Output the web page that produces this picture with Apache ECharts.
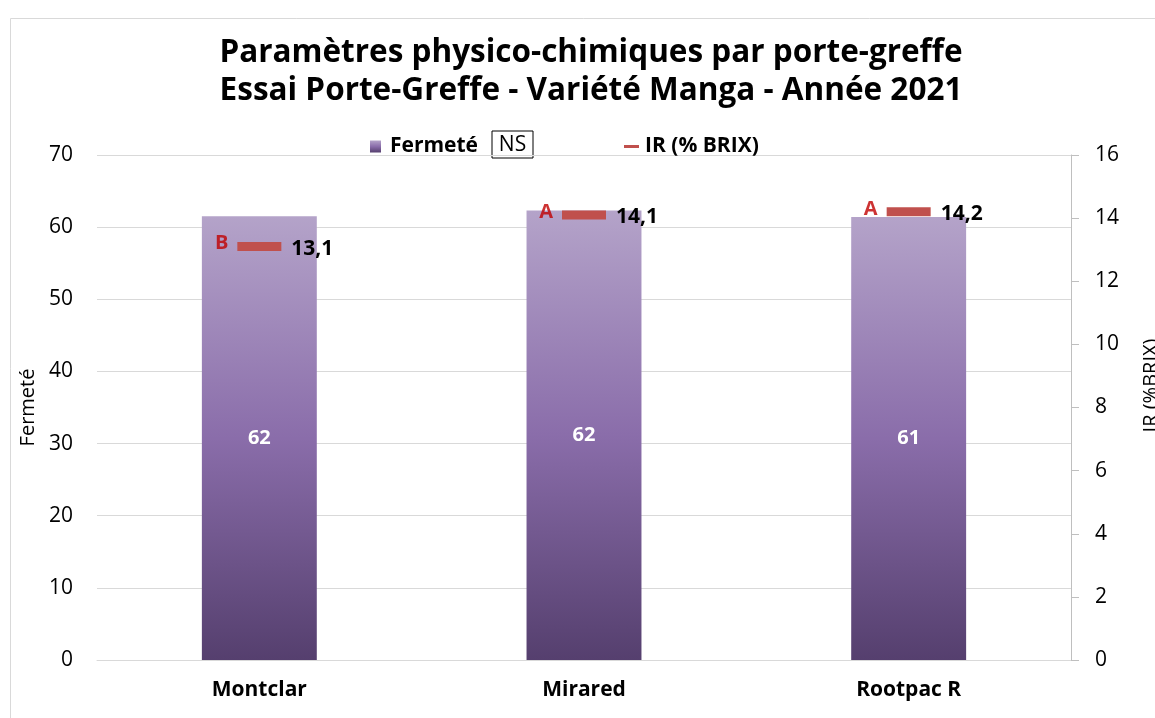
<!DOCTYPE html>
<html>
<head>
<meta charset="utf-8">
<script src="https://cdn.jsdelivr.net/npm/echarts@6/dist/echarts.min.js"></script>
<style>html,body{margin:0;padding:0;background:#fff}#c{width:1155px;height:718px}</style>
</head>
<body>
<div id="c"></div>
<script>
var categories = ['Montclar', 'Mirared', 'Rootpac R'];
var fermete = [61.5, 62.3, 61.4];
var ir = [13.1, 14.1, 14.2];
var irLetters = ['B', 'A', 'A'];
var leftTicks = {min: 0, max: 70, interval: 10};
var rightTicks = {min: 0, max: 16, interval: 2};
var titleLines = ['Paramètres physico-chimiques par porte-greffe', 'Essai Porte-Greffe - Variété Manga - Année 2021'];

var FONT = '"Open Sans", "DejaVu Sans", sans-serif';
var chart = echarts.init(document.getElementById('c'));
var option = {
  animation: false,
  textStyle: {fontFamily: FONT},
  grid: {left: 97, right: 84, top: 155, bottom: 58, outerBoundsMode: 'none', containLabel: false},
  legend: [
    {data: ['Fermeté'], left: 370, top: 136, padding: 0, itemWidth: 11, itemHeight: 12, icon: 'rect',
     textStyle: {fontFamily: FONT, fontWeight: 'bold', fontSize: 21, color: '#000', padding: [0, 0, 0, 4]}},
    {data: ['IR (% BRIX)'], left: 624, top: 136, padding: 0, itemWidth: 15, itemHeight: 3, icon: 'rect',
     textStyle: {fontFamily: FONT, fontWeight: 'bold', fontSize: 21, color: '#000', padding: [0, 0, 0, 1]}}
  ],
  graphic: [
    {type: 'rect', left: 8, top: 16, shape: {width: 1300, height: 800},
     style: {fill: 'none', stroke: '#d9d9d9', lineWidth: 1}, silent: true},
    {type: 'text', x: 591, y: 53, style: {text: titleLines[0], fontFamily: FONT, fontWeight: 'bold', fontSize: 31.5, fill: '#000', textAlign: 'center', textVerticalAlign: 'middle'}},
    {type: 'text', x: 591, y: 91.5, style: {text: titleLines[1], fontFamily: FONT, fontWeight: 'bold', fontSize: 31.5, fill: '#000', textAlign: 'center', textVerticalAlign: 'middle'}},
    {type: 'group', x: 492, y: 131, children: [
      {type: 'rect', shape: {x: 0, y: 0, width: 41, height: 27}, style: {fill: '#fff', stroke: '#000', lineWidth: 1}},
      {type: 'text', x: 20.5, y: 14, style: {text: 'NS', fontFamily: FONT, fontSize: 21, fill: '#000', textAlign: 'center', textVerticalAlign: 'middle'}}
    ]}
  ],
  xAxis: {
    type: 'category', data: categories,
    axisLine: {show: true, lineStyle: {color: '#d9d9d9'}},
    axisTick: {show: false},
    axisLabel: {fontFamily: FONT, fontWeight: 'bold', fontSize: 21, color: '#000', margin: 20}
  },
  yAxis: [
    {type: 'value', min: leftTicks.min, max: leftTicks.max, interval: leftTicks.interval,
     name: 'Fermeté', nameLocation: 'middle', nameRotate: 90, nameGap: 53,
     nameTextStyle: {fontFamily: FONT, fontSize: 20, color: '#000'},
     axisLine: {show: false}, axisTick: {show: false},
     axisLabel: {fontFamily: FONT, fontSize: 21, color: '#000', margin: 24},
     splitLine: {lineStyle: {color: '#d9d9d9'}}},
    {type: 'value', min: rightTicks.min, max: rightTicks.max, interval: rightTicks.interval, position: 'right',
     name: 'IR (%BRIX)', nameLocation: 'middle', nameRotate: 90, nameGap: 70,
     nameTextStyle: {fontFamily: FONT, fontSize: 20, color: '#000', padding: [0, 0, 0, 44]},
     axisLine: {show: true, lineStyle: {color: '#bfbfbf'}},
     axisTick: {show: true, length: 8, lineStyle: {color: '#bfbfbf'}},
     axisLabel: {fontFamily: FONT, fontSize: 21, color: '#000', margin: 24},
     splitLine: {show: false}}
  ],
  series: [
    {name: 'Fermeté', type: 'bar', data: fermete, barWidth: '35.4%', yAxisIndex: 0,
     itemStyle: {color: new echarts.graphic.LinearGradient(0, 0, 0, 1, [
       {offset: 0, color: '#B4A3C9'}, {offset: 0.5, color: '#8A6DAA'}, {offset: 1, color: '#553F6E'}])},
     label: {show: true, position: 'inside', formatter: function (p) { return Math.round(p.value); },
       fontFamily: FONT, fontWeight: 'bold', fontSize: 20, color: '#fff'}},
    {name: 'IR (% BRIX)', type: 'scatter', data: ir, yAxisIndex: 1, symbol: 'rect', symbolSize: [44, 9],
     itemStyle: {color: '#C0504D', opacity: 1}, z: 5,
     label: {show: true, position: 'right', distance: 10, offset: [0, 2],
       formatter: function (p) { return String(p.value).replace('.', ','); },
       fontFamily: FONT, fontWeight: 'bold', fontSize: 21, color: '#000'}},
    {name: 'IR letters', type: 'scatter', data: ir, yAxisIndex: 1, symbol: 'rect', symbolSize: [44, 9],
     itemStyle: {color: 'rgba(0,0,0,0)'}, silent: true, z: 6,
     label: {show: true, position: 'left', distance: 9, offset: [0, -3],
       formatter: function (p) { return irLetters[p.dataIndex]; },
       fontFamily: FONT, fontWeight: 'bold', fontSize: 20, color: '#C00000'}}
  ]
};
chart.setOption(option);
</script>
</body>
</html>
